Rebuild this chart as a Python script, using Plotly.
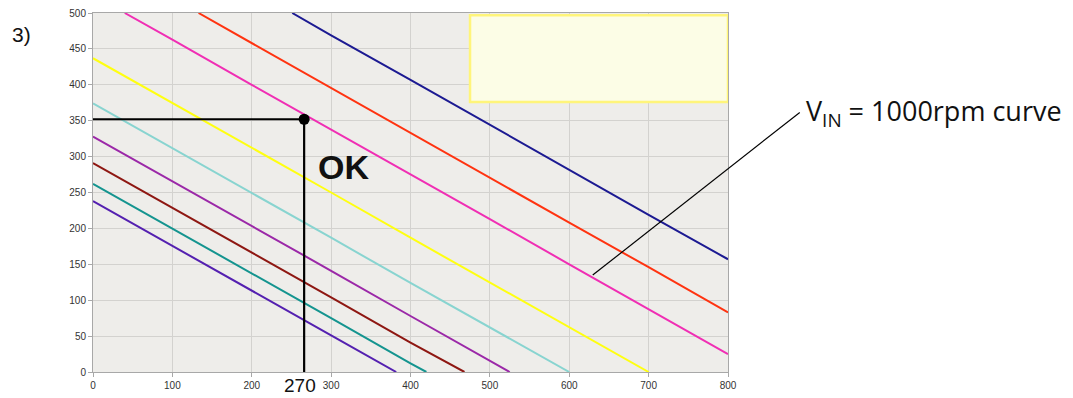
import plotly.graph_objects as go

# operating curves (x, y pairs per curve)
curve_colors = ["#5420B0", "#14948F", "#8E1712", "#9B28A8", "#88D4D0",
                "#FFFF10", "#F02EB4", "#FF3310", "#1C1A92"]

x_c1 = [0, 100, 200, 300, 382]
y_c1 = [238, 176, 113, 51, 0]
x_c2 = [0, 100, 200, 300, 400, 420]
y_c2 = [262, 200, 137, 75, 12, 0]
x_c3 = [0, 100, 200, 300, 400, 468]
y_c3 = [291, 229, 166, 104, 41, 0]
x_c4 = [0, 100, 200, 300, 400, 500, 525]
y_c4 = [328, 266, 203, 141, 78, 16, 0]
x_c5 = [0, 100, 200, 300, 400, 500, 600]
y_c5 = [374, 312, 249, 187, 124, 62, 0]
x_c6 = [0, 100, 200, 300, 400, 500, 600, 700]
y_c6 = [437, 375, 312, 250, 187, 125, 62, 0]
x_c7 = [40, 100, 200, 300, 400, 500, 600, 700, 800]
y_c7 = [500, 463, 400, 338, 275, 213, 150, 88, 25]
x_c8 = [133, 200, 300, 400, 500, 600, 700, 800]
y_c8 = [500, 458, 396, 333, 271, 208, 146, 83]
x_c9 = [251, 300, 400, 500, 600, 700, 800]
y_c9 = [500, 469, 407, 344, 282, 219, 157]

# operating point
op_x = 266
op_y = 352

curves = [(x_c1, y_c1), (x_c2, y_c2), (x_c3, y_c3), (x_c4, y_c4), (x_c5, y_c5),
          (x_c6, y_c6), (x_c7, y_c7), (x_c8, y_c8), (x_c9, y_c9)]

fig = go.Figure()

for (xs, ys), color in zip(curves, curve_colors):
    fig.add_trace(go.Scatter(x=xs, y=ys, mode="lines",
                             line=dict(color=color, width=2),
                             hoverinfo="skip", showlegend=False))

# guide lines to the operating point
fig.add_trace(go.Scatter(x=[0, op_x, op_x], y=[op_y, op_y, 0], mode="lines",
                         line=dict(color="black", width=2.2),
                         showlegend=False, hoverinfo="skip"))
fig.add_trace(go.Scatter(x=[op_x], y=[op_y], mode="markers",
                         marker=dict(color="black", size=11),
                         showlegend=False, cliponaxis=False))

# empty legend box
fig.add_shape(type="rect", x0=475, x1=800, y0=376, y1=497, xref="x", yref="y",
              line=dict(color="#FFF57A", width=2.5), fillcolor="#FCFDE6")

# leader line to the label
fig.add_shape(type="line", xref="paper", yref="paper",
              x0=0.787, y0=0.270, x1=1.113, y1=0.723,
              line=dict(color="black", width=1.2))

fig.add_annotation(text="V<sub>IN</sub> = 1000rpm curve", xref="paper", yref="paper",
                   x=1.120, y=0.722, xanchor="left", yanchor="middle", showarrow=False,
                   font=dict(family="Open Sans", size=27, color="#111111"))
fig.add_annotation(text="<b>OK</b>", x=316, y=286, xref="x", yref="y", showarrow=False,
                   font=dict(family="Liberation Sans", size=34, color="#111111"))
fig.add_annotation(text="270", x=op_x, y=0, xref="x", yref="y", yanchor="top",
                   yshift=-1, xshift=-4, showarrow=False,
                   font=dict(family="Liberation Sans", size=19, color="#111111"))
fig.add_annotation(text="3)", xref="paper", yref="paper", x=-0.112, y=0.94,
                   xanchor="center", yanchor="middle", showarrow=False,
                   font=dict(family="Liberation Sans", size=21, color="#111111"))

fig.update_xaxes(range=[0, 800], dtick=100, showgrid=True, gridcolor="#D3D2CF",
                 showline=True, linecolor="#A8A8A8", mirror=True, zeroline=False,
                 ticks="outside", ticklen=4, tickcolor="#A8A8A8",
                 ticklabeloverflow="allow", automargin=False,
                 tickfont=dict(family="Liberation Sans", size=10, color="#333333"))
fig.update_yaxes(range=[0, 500], dtick=50, showgrid=True, gridcolor="#D3D2CF",
                 showline=True, linecolor="#A8A8A8", mirror=True, zeroline=False,
                 ticks="outside", ticklen=4, tickcolor="#A8A8A8",
                 ticklabeloverflow="allow", automargin=False,
                 tickfont=dict(family="Liberation Sans", size=10, color="#333333"))

# page body has an 8px margin, so the figure is 8px smaller than the window
fig.update_layout(width=1065, height=390, margin=dict(l=85, r=345, t=5, b=26),
                  plot_bgcolor="#EEEDEA", paper_bgcolor="white")

fig.write_html("out.html")
